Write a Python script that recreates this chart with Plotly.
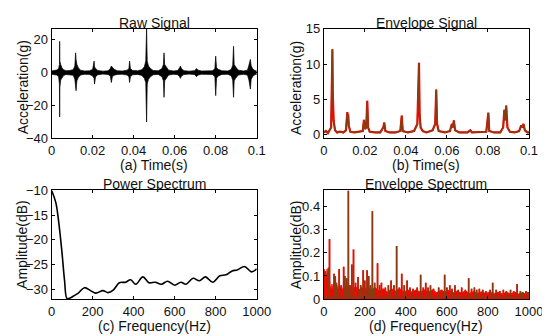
import plotly.graph_objects as go

# ---------------- data ----------------
# (a) raw signal: envelope keypoints of the dense vibration trace
raw_t = [0.0000, 0.0012, 0.0025, 0.0034, 0.0038, 0.0039, 0.0040, 0.0044, 0.0050, 0.0058,
         0.0070, 0.0088, 0.0105, 0.0113, 0.0117, 0.0119, 0.0123, 0.0130, 0.0140, 0.0160,
         0.0185, 0.0200, 0.0207, 0.0209, 0.0214, 0.0225, 0.0250, 0.0275, 0.0286, 0.0291,
         0.0296, 0.0305, 0.0320, 0.0345, 0.0368, 0.0377, 0.0380, 0.0384, 0.0395, 0.0420,
         0.0440, 0.0452, 0.0459, 0.0463, 0.0466, 0.0472, 0.0482, 0.0495, 0.0520, 0.0538,
         0.0545, 0.0548, 0.0551, 0.0558, 0.0570, 0.0595, 0.0615, 0.0624, 0.0628, 0.0633,
         0.0645, 0.0670, 0.0698, 0.0706, 0.0714, 0.0730, 0.0760, 0.0785, 0.0796, 0.0800,
         0.0804, 0.0812, 0.0830, 0.0860, 0.0876, 0.0883, 0.0887, 0.0890, 0.0897, 0.0910,
         0.0935, 0.0955, 0.0962, 0.0966, 0.0969, 0.0973, 0.0982, 0.0992, 0.1000]
raw_hi = [1.0, 1.3, 1.6, 2.5, 5.0, 19.0, 7.0, 5.0, 3.0, 1.8,
          1.1, 1.3, 1.8, 4.0, 12.0, 8.0, 5.0, 3.0, 1.5, 1.0,
          1.1, 2.0, 7.0, 3.5, 2.5, 1.3, 0.9, 1.1, 2.5, 4.0,
          3.0, 2.0, 1.1, 1.0, 1.5, 2.5, 7.0, 2.5, 1.3, 1.1,
          1.8, 3.5, 7.0, 27.0, 7.0, 4.0, 2.5, 1.3, 1.1, 2.5,
          5.0, 12.0, 5.0, 3.5, 1.5, 1.0, 1.3, 3.0, 4.0, 2.5,
          1.2, 0.9, 1.2, 2.5, 1.5, 1.0, 0.9, 1.1, 2.5, 10.0,
          3.0, 2.0, 1.1, 1.0, 2.0, 4.5, 16.0, 5.0, 3.5, 1.5,
          1.0, 1.5, 4.5, 7.0, 8.0, 4.0, 2.0, 1.2, 1.1]
raw_lo = [-1.0, -1.2, -1.5, -2.5, -7.0, -27.0, -9.0, -4.5, -3.0, -1.8,
          -1.1, -1.2, -1.6, -4.0, -7.0, -11.0, -5.0, -3.0, -1.5, -1.0,
          -1.1, -2.0, -3.5, -7.0, -2.5, -1.3, -0.9, -1.1, -2.0, -6.0,
          -2.5, -1.6, -1.1, -1.0, -1.5, -2.5, -6.0, -2.5, -1.3, -1.1,
          -1.7, -3.5, -6.0, -30.0, -7.0, -4.0, -2.5, -1.3, -1.1, -2.5,
          -5.0, -15.0, -5.0, -3.5, -1.5, -1.0, -1.3, -2.5, -3.5, -2.0,
          -1.2, -0.9, -1.2, -2.5, -1.5, -1.0, -0.9, -1.1, -2.5, -14.0,
          -3.5, -2.0, -1.1, -1.0, -2.0, -4.5, -15.0, -5.0, -3.5, -1.5,
          -1.0, -1.5, -4.5, -8.0, -10.0, -4.0, -2.0, -1.2, -1.1]

# (b) envelope signal
env_t = [0.0000, 0.0010, 0.0020, 0.0030, 0.0036, 0.0040, 0.0042, 0.0044, 0.0048, 0.0055,
         0.0065, 0.0080, 0.0095, 0.0108, 0.0113, 0.0115, 0.0117, 0.0119, 0.0122, 0.0130,
         0.0150, 0.0170, 0.0190, 0.0196, 0.0200, 0.0207, 0.0212, 0.0216, 0.0224, 0.0250,
         0.0275, 0.0290, 0.0295, 0.0300, 0.0320, 0.0350, 0.0373, 0.0380, 0.0385, 0.0410,
         0.0440, 0.0456, 0.0464, 0.0467, 0.0472, 0.0482, 0.0500, 0.0530, 0.0543, 0.0548,
         0.0552, 0.0560, 0.0590, 0.0615, 0.0624, 0.0628, 0.0634, 0.0640, 0.0660, 0.0700,
         0.0714, 0.0722, 0.0760, 0.0792, 0.0802, 0.0806, 0.0830, 0.0860, 0.0874, 0.0880,
         0.0884, 0.0889, 0.0895, 0.0907, 0.0930, 0.0952, 0.0962, 0.0966, 0.0973, 0.0980,
         0.0992, 0.1000]
env_v = [0.3, 0.5, 0.2, 0.6, 1.0, 8.0, 12.1, 6.0, 2.0, 0.6,
         0.3, 0.4, 0.3, 0.6, 2.5, 3.2, 2.0, 2.9, 1.2, 0.4,
         0.3, 0.4, 0.5, 2.1, 0.8, 1.0, 4.8, 1.0, 0.4, 0.3,
         0.3, 1.0, 1.7, 0.5, 0.3, 0.3, 0.5, 2.7, 0.5, 0.3,
         0.5, 1.5, 10.2, 3.0, 1.0, 0.5, 0.3, 0.6, 1.5, 6.4,
         1.5, 0.5, 0.3, 0.5, 1.5, 1.0, 2.0, 0.6, 0.3, 0.3,
         0.6, 0.3, 0.3, 0.4, 3.1, 0.5, 0.3, 0.3, 1.0, 3.5,
         2.0, 4.1, 1.0, 0.4, 0.3, 0.5, 1.3, 1.0, 1.5, 0.6,
         0.3, 0.3]

# (c) power spectrum
pw_f = [0, 20, 35, 50, 63, 75, 90, 110, 130, 160, 190, 215, 250, 275, 300, 330, 360, 385,
        410, 445, 475, 505, 535, 565, 600, 630, 655, 690, 720, 750, 785, 820, 850, 880,
        905, 940, 975, 1000]
pw_db = [-10.0, -12.4, -16.6, -22.4, -28.3, -31.9, -31.8, -31.3, -30.8, -29.7, -30.3, -30.8,
         -30.3, -30.7, -30.2, -28.7, -28.6, -28.1, -29.0, -27.5, -28.7, -28.6, -29.0, -28.4,
         -29.2, -28.6, -29.0, -27.8, -28.3, -27.5, -28.6, -27.3, -27.1, -26.3, -26.1, -25.4,
         -26.5, -25.9]

# (d) envelope spectrum: discrete peaks and red noise floor
es_peak_f = [8, 23, 28, 50, 56, 62, 75, 85, 97, 103, 112, 120, 128, 137, 145, 155, 167, 180,
             192, 200, 211, 219, 228, 237, 248, 262, 272, 281, 300, 315, 328, 342, 355, 368,
             380, 392, 406, 420, 435, 455, 472, 485, 497, 508, 520, 535, 560, 575, 589, 600,
             614, 625, 639, 655, 672, 690, 706, 720, 734, 745, 758, 775, 790, 810, 823, 840,
             858, 875, 890, 910, 925, 942, 958, 969, 985, 995]
es_peak_a = [0.12, 0.135, 0.26, 0.11, 0.10, 0.07, 0.13, 0.06, 0.14, 0.10, 0.09, 0.47, 0.06,
             0.15, 0.215, 0.07, 0.095, 0.06, 0.125, 0.08, 0.125, 0.10, 0.06, 0.38, 0.07, 0.155,
             0.06, 0.07, 0.05, 0.06, 0.08, 0.06, 0.23, 0.05, 0.11, 0.06, 0.08, 0.05, 0.045, 0.05,
             0.105, 0.05, 0.07, 0.05, 0.06, 0.045, 0.05, 0.04, 0.105, 0.05, 0.06, 0.045, 0.06,
             0.04, 0.05, 0.04, 0.09, 0.045, 0.05, 0.04, 0.045, 0.04, 0.035, 0.04, 0.07, 0.04,
             0.035, 0.04, 0.035, 0.04, 0.035, 0.065, 0.035, 0.03, 0.035, 0.03]
es_floor_f = [0, 2, 5, 8, 12, 16, 20, 25, 30, 35, 40, 46, 52, 58, 64, 70, 80, 90, 100, 110,
              125, 140, 155, 170, 185, 200, 215, 230, 250, 270, 290, 310, 330, 350, 370, 390,
              410, 430, 450, 470, 490, 510, 530, 550, 570, 590, 610, 630, 650, 670, 690, 710,
              730, 750, 770, 790, 810, 830, 850, 870, 890, 910, 930, 950, 970, 985, 1000]
es_floor_a = [0.02, 0.13, 0.09, 0.12, 0.08, 0.13, 0.10, 0.13, 0.06, 0.04, 0.065, 0.04, 0.06,
              0.045, 0.06, 0.04, 0.055, 0.04, 0.06, 0.045, 0.06, 0.04, 0.055, 0.04, 0.05, 0.04,
              0.055, 0.04, 0.05, 0.035, 0.045, 0.03, 0.045, 0.035, 0.045, 0.03, 0.04, 0.03, 0.04,
              0.03, 0.04, 0.03, 0.04, 0.028, 0.038, 0.03, 0.038, 0.027, 0.035, 0.027, 0.035,
              0.025, 0.033, 0.025, 0.032, 0.024, 0.032, 0.024, 0.03, 0.022, 0.03, 0.022, 0.03,
              0.022, 0.028, 0.02, 0.025]
es_base = 0.006

BROWN = "#8a3b12"
RED = "#ff0000"
FONT = "Arial"
TXT = "#111111"

# panel geometry (paper coordinates, figure 550x336, no margins)
W, H = 550.0, 336.0
xd_left = [41 / W, 253 / W]
xd_right = [322.3 / W, 534.5 / W]
yd_top = [1 - 129.2 / H, 1 - 14.5 / H]
yd_bot = [1 - 297.3 / H, 1 - 183.7 / H]

fig = go.Figure()

# (a) raw signal band
fig.add_trace(go.Scatter(x=raw_t, y=raw_hi, mode="lines", line=dict(color="black", width=0.7),
                         xaxis="x", yaxis="y", showlegend=False, hoverinfo="skip"))
fig.add_trace(go.Scatter(x=raw_t, y=raw_lo, mode="lines", line=dict(color="black", width=0.7),
                         fill="tonexty", fillcolor="black",
                         xaxis="x", yaxis="y", showlegend=False, hoverinfo="skip"))

# (b) envelope signal: red then brown overlay
fig.add_trace(go.Scatter(x=env_t, y=env_v, mode="lines", line=dict(color=RED, width=2.2),
                         xaxis="x2", yaxis="y2", showlegend=False))
fig.add_trace(go.Scatter(x=env_t, y=env_v, mode="lines", line=dict(color=BROWN, width=1.4),
                         xaxis="x2", yaxis="y2", showlegend=False))

# (c) power spectrum
fig.add_trace(go.Scatter(x=pw_f, y=pw_db, mode="lines", line=dict(color="black", width=1.6, shape="spline"),
                         xaxis="x3", yaxis="y3", showlegend=False))

# (d) envelope spectrum
fig.add_trace(go.Scatter(x=es_floor_f, y=es_floor_a, mode="lines", line=dict(color=RED, width=0.8),
                         fill="tozeroy", fillcolor=RED, xaxis="x4", yaxis="y4", showlegend=False))
red_x, red_y = [], []
for f, a in zip(es_peak_f, es_peak_a):
    red_x += [f, f, None]
    red_y += [0, a, None]
fig.add_trace(go.Scatter(x=red_x, y=red_y, mode="lines", line=dict(color=RED, width=1.8),
                         xaxis="x4", yaxis="y4", showlegend=False))
br_x, br_y = [0], [es_base]
for f, a in zip(es_peak_f, es_peak_a):
    br_x += [f - 0.5, f, f + 0.5]
    br_y += [es_base, a, es_base]
br_x.append(1000)
br_y.append(es_base)
fig.add_trace(go.Scatter(x=br_x, y=br_y, mode="lines", line=dict(color=BROWN, width=1.2),
                         xaxis="x4", yaxis="y4", showlegend=False))

axis_common = dict(showline=True, linecolor="black", linewidth=1, mirror="ticks",
                   ticks="inside", ticklen=3, tickcolor="black", showgrid=False, zeroline=False,
                   tickfont=dict(family=FONT, size=13, color=TXT))

xt_time = [0, 0.02, 0.04, 0.06, 0.08, 0.1]
xt_time_lbl = ["0", "0.02", "0.04", "0.06", "0.08", "0.1"]
xt_freq = [0, 200, 400, 600, 800, 1000]
xt_freq_lbl = ["0", "200", "400", "600", "800", "1000"]

fig.update_layout(
    width=550, height=336, margin=dict(l=0, r=0, t=0, b=0),
    paper_bgcolor="white", plot_bgcolor="white",
    xaxis=dict(domain=xd_left, anchor="y", range=[0, 0.1], tickvals=xt_time, ticktext=xt_time_lbl, **axis_common),
    yaxis=dict(domain=yd_top, anchor="x", range=[-40, 26.6], tickvals=[-40, -20, 0, 20],
               ticktext=["\u221240", "\u221220", "0", "20"], **axis_common),
    xaxis2=dict(domain=xd_right, anchor="y2", range=[0, 0.1], tickvals=xt_time, ticktext=xt_time_lbl, **axis_common),
    yaxis2=dict(domain=yd_top, anchor="x2", range=[-0.55, 15], tickvals=[0, 5, 10, 15], **axis_common),
    xaxis3=dict(domain=xd_left, anchor="y3", range=[0, 1000], tickvals=xt_freq, ticktext=xt_freq_lbl, **axis_common),
    yaxis3=dict(domain=yd_bot, anchor="x3", range=[-32, -10], tickvals=[-30, -25, -20, -15, -10],
                ticktext=["\u221230", "\u221225", "\u221220", "\u221215", "\u221210"], **axis_common),
    xaxis4=dict(domain=xd_right, anchor="y4", range=[0, 1000], tickvals=xt_freq, ticktext=xt_freq_lbl, **axis_common),
    yaxis4=dict(domain=yd_bot, anchor="x4", range=[0, 0.47], tickvals=[0, 0.1, 0.2, 0.3, 0.4],
                ticktext=["0", "0.1", "0.2", "0.3", "0.4"], **axis_common),
)

def ann(text, x, y, angle=0):
    fig.add_annotation(text=text, x=x / W, y=1 - y / H, xref="paper", yref="paper",
                       xanchor="center", yanchor="middle", showarrow=False, textangle=angle,
                       font=dict(family=FONT, size=14, color=TXT))

ann("Raw Signal", 147, 8)
ann("Envelope Signal", 428.4, 8)
ann("Power Spectrum", 147, 176.5)
ann("Envelope Spectrum", 428.4, 176.5)
ann("(a) Time(s)", 147, 157.5)
ann("(b) Time(s)", 428.4, 157.5)
ann("(c) Frequency(Hz)", 147, 325.5)
ann("(d) Frequency(Hz)", 428.4, 325.5)
ann("Acceleration(g)", 11, 76, -90)
ann("Acceleration(g)", 293, 76, -90)
ann("Amplitude(dB)", 11, 240, -90)
ann("Amplitude(dB)", 293.5, 240, -90)

fig.write_html("out.html")
